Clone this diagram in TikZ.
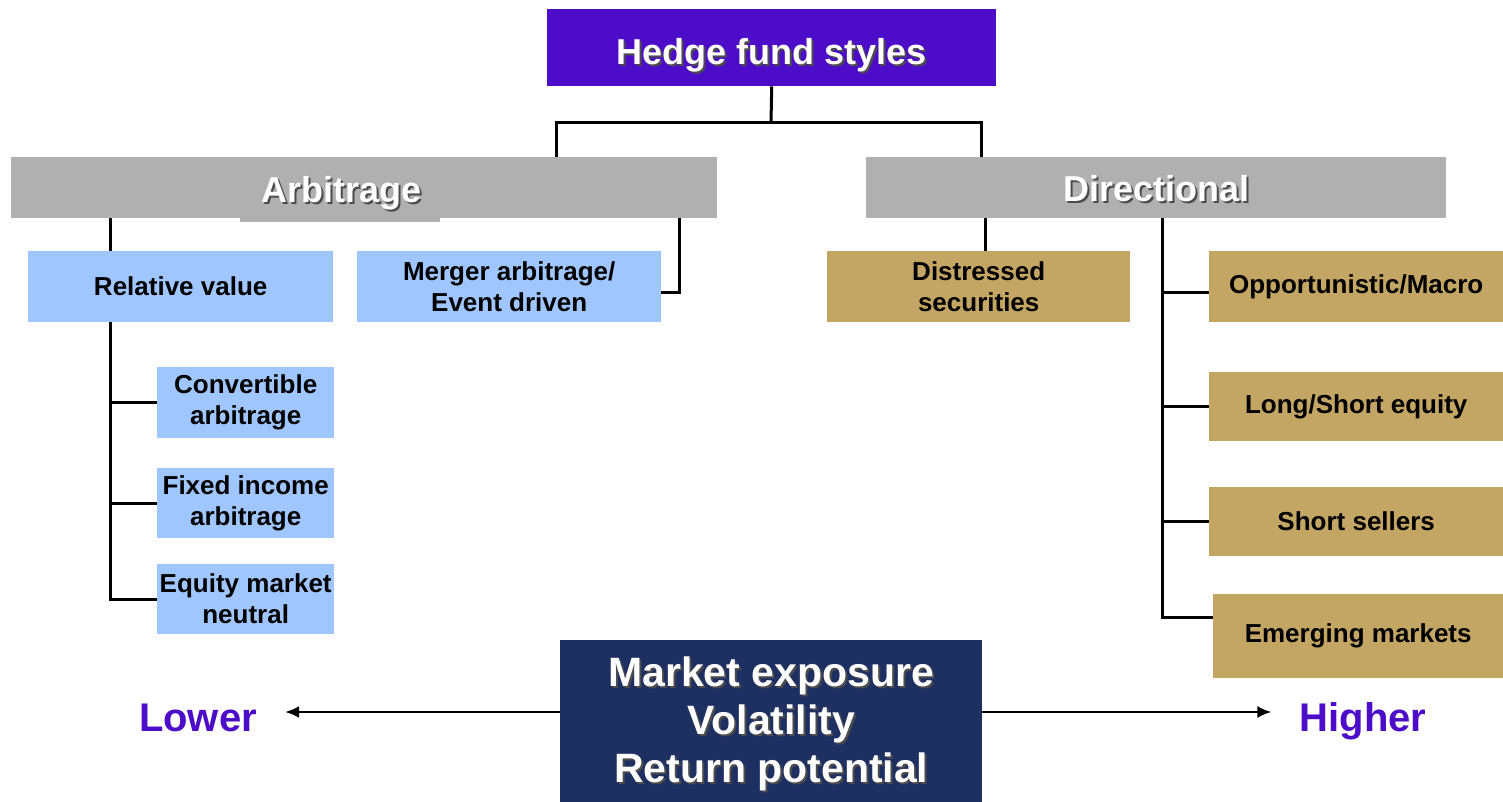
\documentclass[tikz,border=0pt]{standalone}
\usepackage{fontspec}
\setmainfont{Liberation Sans}
\usepackage{xcolor}
\usetikzlibrary{positioning, arrows.meta}
\definecolor{titleviolet}{RGB}{76,12,200}
\definecolor{bargray}{RGB}{176,176,176}
\definecolor{lightblue}{RGB}{160,198,255}
\definecolor{tan}{RGB}{196,166,100}
\definecolor{navy}{RGB}{30,47,98}
\newcommand\shadowed[1]{\makebox[0pt][l]{\color{black!70}\kern2pt\raisebox{-2pt}{#1}}#1}
\newcommand\lowered[2]{\raisebox{#1}[0pt][0pt]{#2}}

\begin{document}
\begin{tikzpicture}[
	x=1pt, y=-1pt,
	every node/.style={inner sep=0, font=\bfseries},
	head/.style={rectangle, fill=titleviolet, text=white, anchor=north west, font=\bfseries\fontsize{36}{40}\selectfont},
	grp/.style={rectangle, fill=bargray, text=white, anchor=north west, font=\bfseries\fontsize{36}{40}\selectfont},
	arbnode/.style={rectangle, fill=lightblue, anchor=north west, align=center, font=\bfseries\fontsize{26}{31}\selectfont},
	dirnode/.style={rectangle, fill=tan, anchor=north west, align=center, font=\bfseries\fontsize{26}{31}\selectfont},
	expo/.style={rectangle, fill=navy, text=white, anchor=north west, align=center, font=\bfseries\fontsize{41}{48}\selectfont},
	side/.style={text=titleviolet, anchor=base, font=\bfseries\fontsize{40}{44}\selectfont},
	link/.style={line width=3pt},
	]
	\useasboundingbox (0,0) rectangle (1503,802);

		%Nodes
    \node[head, minimum width=449, minimum height=77] (title) at (547,9) {\lowered{-17pt}{\shadowed{Hedge fund styles}}};
    \fill[bargray] (240,215) rectangle (440,222);
    \node[grp, minimum width=706, minimum height=61] (arb) at (11,157) {\kern-46pt\lowered{-15pt}{\shadowed{Arbitrage}}};
    \node[grp, minimum width=580, minimum height=61] (dir) at (866,157) {\lowered{-14pt}{\shadowed{Directional}}};

    \node[arbnode, minimum width=305, minimum height=71] (rv) at (28,251) {Relative value};
    \node[arbnode, minimum width=304, minimum height=71] (mg) at (357,251) {Merger arbitrage/\\Event driven};
    \node[arbnode, minimum width=177, minimum height=71] (cv) at (157,367) {Convertible\\arbitrage};
    \node[arbnode, minimum width=177, minimum height=70] (fi) at (157,468) {Fixed income\\arbitrage};
    \node[arbnode, minimum width=177, minimum height=70] (eq) at (157,564) {Equity market\\neutral};

    \node[dirnode, minimum width=303, minimum height=71] (ds) at (827,251) {Distressed\\securities};
    \node[dirnode, minimum width=294, minimum height=71] (op) at (1209,251) {Opportunistic/Macro};
    \node[dirnode, minimum width=294, minimum height=69] (ls) at (1209,372) {Long/Short equity};
    \node[dirnode, minimum width=294, minimum height=69] (ss) at (1209,487) {Short sellers};
    \node[dirnode, minimum width=290, minimum height=84] (em) at (1213,594) {Emerging markets};

    \node[expo, minimum width=422, minimum height=170] (mkt) at (560,640) {\shadowed{Market exposure}\\\shadowed{Volatility}\\\shadowed{Return potential}};
    \node[side] (lower) at (198,731) {Lower};
    \node[side] (higher) at (1363,731) {Higher};

    \coordinate (split) at (771,123);
    \coordinate (arbtap) at (556,157);
    \coordinate (dirtap) at (981,157);
    \coordinate (rvx) at (110,0);
    \coordinate (mgx) at (679,0);
    \coordinate (dsx) at (985,0);
    \coordinate (dtx) at (1162,0);
    \coordinate (arrowy) at (0,712);

		%Lines
		\draw[link] (title.south) -- (split);
		\draw[link] (arbtap) |- (dirtap |- split) -- (dirtap);
		\draw[link] (arb.south -| rvx) -- (rv.north -| rvx);
		\draw[link] (rv.south -| rvx) |- (eq.west);
		\draw[link] (rvx |- cv.west) -- (cv.west);
		\draw[link] (rvx |- fi.west) -- (fi.west);
		\draw[link] (arb.south -| mgx) |- ([yshift=-6pt]mg.east);
		\draw[link] (dir.south -| dsx) -- (ds.north -| dsx);
		\draw[link] (dir.south -| dtx) |- ([yshift=19pt]em.west);
		\draw[link] ([yshift=-6pt]dtx |- op.west) -- ([yshift=-6pt]op.west);
		\draw[link] (dtx |- ls.west) -- (ls.west);
		\draw[link] (dtx |- ss.west) -- (ss.west);
		\draw[-{Latex[length=14pt, width=12pt]}, line width=2.5pt] (mkt.west |- arrowy) -- ([xshift=28pt]lower.east |- arrowy);
		\draw[-{Latex[length=14pt, width=12pt]}, line width=2.5pt] (mkt.east |- arrowy) -- ([xshift=-28pt]higher.west |- arrowy);
	\end{tikzpicture}
\end{document}
